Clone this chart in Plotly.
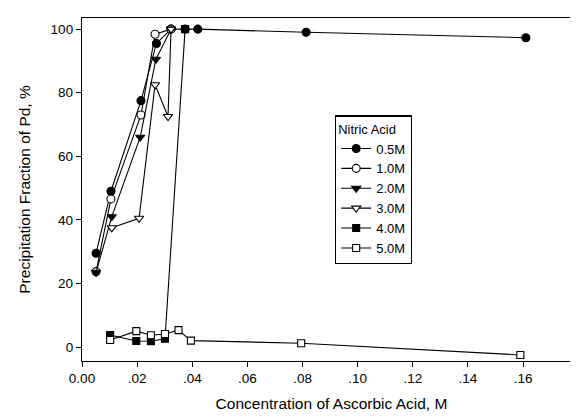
import plotly.graph_objects as go

# Data
labels = ["0.5M", "1.0M", "2.0M", "3.0M", "4.0M", "5.0M"]

x_05 = [0.0051, 0.0105, 0.0214, 0.0270, 0.0323, 0.0374, 0.0420, 0.0813, 0.1610]
y_05 = [29.5, 49.0, 77.5, 95.5, 100.0, 100.0, 100.0, 99.0, 97.3]

x_10 = [0.0051, 0.0105, 0.0214, 0.0265, 0.0323]
y_10 = [23.7, 46.6, 73.0, 98.4, 100.0]

x_20 = [0.0051, 0.0108, 0.0211, 0.0268, 0.0323]
y_20 = [23.5, 41.0, 66.0, 90.5, 100.0]

x_30 = [0.0108, 0.0207, 0.0265, 0.0312, 0.0323]
y_30 = [37.5, 40.5, 82.5, 72.5, 100.0]

x_40 = [0.0102, 0.0197, 0.0250, 0.0301, 0.0374]
y_40 = [3.8, 1.9, 1.8, 2.6, 100.0]

x_50 = [0.0102, 0.0197, 0.0250, 0.0301, 0.0350, 0.0395, 0.0795, 0.1590]
y_50 = [2.2, 5.0, 3.7, 4.1, 5.3, 2.0, 1.2, -2.5]

x_tickvals = [0.0, 0.02, 0.04, 0.06, 0.08, 0.10, 0.12, 0.14, 0.16, 0.18]
x_ticktext = ["0.00", ".02", ".04", ".06", ".08", ".10", ".12", ".14", ".16", ".18"]
y_tickvals = [0, 20, 40, 60, 80, 100]

# (x, y, symbol, filled?)
series = [
    (x_05, y_05, "circle", True),
    (x_10, y_10, "circle", False),
    (x_20, y_20, "triangle-down", True),
    (x_30, y_30, "triangle-down", False),
    (x_40, y_40, "square", True),
    (x_50, y_50, "square", False),
]

fig = go.Figure()
for i, (xs, ys, sym, filled) in enumerate(series):
    fig.add_trace(go.Scatter(
        x=xs, y=ys, name=labels[i], mode="lines+markers",
        line=dict(color="black", width=1.1),
        marker=dict(symbol=sym, size=8 if sym != "square" else 7,
                    color="black" if filled else "white",
                    line=dict(color="black", width=1.1)),
    ))

font_family = "Liberation Sans, Arial, sans-serif"

fig.update_layout(
    width=578, height=418,
    margin=dict(l=74, r=5, t=10, b=65),
    paper_bgcolor="white", plot_bgcolor="white",
    font=dict(family=font_family, color="black", size=12),
    showlegend=True,
    legend=dict(
        x=0.507, y=0.716, xanchor="left", yanchor="top",
        bordercolor="black", borderwidth=1.2, bgcolor="white",
        font=dict(size=13, family=font_family),
        title=dict(text="Nitric Acid", font=dict(size=13, family=font_family)),
        itemwidth=30, tracegroupgap=0,
    ),
    xaxis=dict(
        range=[0, 0.181], tickvals=x_tickvals, ticktext=x_ticktext,
        showgrid=False, zeroline=False, showline=True, linecolor="black",
        linewidth=1.3, mirror=True, ticks="outside", ticklen=5,
        tickcolor="black", tickfont=dict(size=13.5), automargin=False,
        title=dict(text="Concentration of Ascorbic Acid, M",
                   font=dict(size=15.5), standoff=12),
    ),
    yaxis=dict(
        range=[-4.4, 103.5], tickvals=y_tickvals,
        showgrid=False, zeroline=False, showline=True, linecolor="black",
        linewidth=1.3, mirror=True, ticks="outside", ticklen=5,
        tickcolor="black", tickfont=dict(size=13.5), automargin=False,
        title=dict(text="Precipitation Fraction of Pd, %",
                   font=dict(size=15.5), standoff=16),
    ),
)

fig.write_html("out.html")
